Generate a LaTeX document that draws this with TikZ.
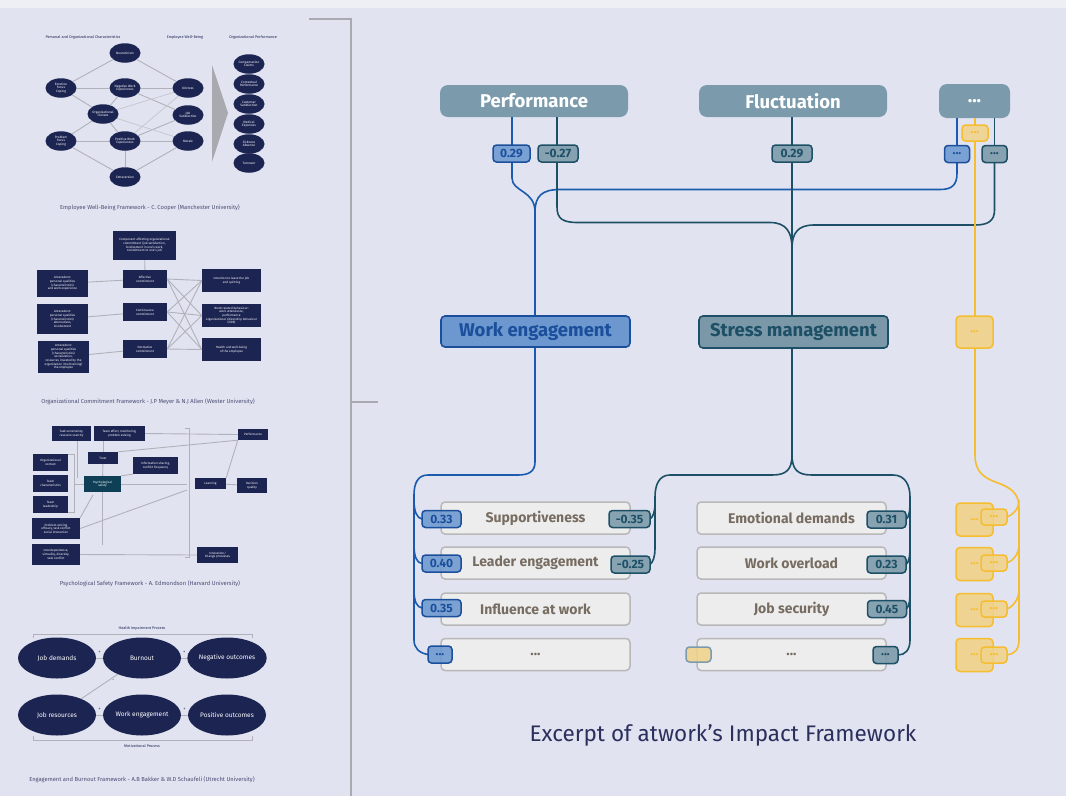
\documentclass[tikz,border=0pt]{standalone}
\usepackage{fontspec}
\setmainfont{Fira Sans}
\usetikzlibrary{shapes.geometric}
\definecolor{bg}{HTML}{E1E3F0}
\definecolor{outer}{HTML}{EEEFF4}
\definecolor{topc}{HTML}{7B9BAC}
\definecolor{bluel}{HTML}{1A5BAE}
\definecolor{bluef}{HTML}{6C98CF}
\definecolor{bluet}{HTML}{1B4F9C}
\definecolor{teall}{HTML}{1D5066}
\definecolor{tealf}{HTML}{7A98A8}
\definecolor{yell}{HTML}{F5BD2F}
\definecolor{yelf}{HTML}{F0D28B}
\definecolor{rowf}{HTML}{EDEDED}
\definecolor{rowd}{HTML}{B8B8B8}
\definecolor{rowt}{HTML}{776C61}
\definecolor{navy}{HTML}{1C2452}
\definecolor{psyc}{HTML}{0E3F57}
\definecolor{pgrey}{HTML}{B1B2B9}
\definecolor{capc}{HTML}{2B2F5C}
\definecolor{brk}{HTML}{A9AAB0}
\tikzset{
  topbox/.style={fill=topc, rounded corners=8, text=white, font=\bfseries\fontsize{18.5}{20}\selectfont, minimum height=32, inner sep=0},
  badge/.style={line width=1.5, rounded corners=3.5, font=\bfseries\fontsize{12}{13}\selectfont, minimum height=17, inner sep=0, fill opacity=0.88, text opacity=1},
  bbadge/.style={badge, fill=bluef, draw=bluet, text=bluet},
  tbadge/.style={badge, fill=tealf, draw=teall, text=teall},
  ybadge/.style={badge, fill=yelf, draw=yell, text=yell},
  rowbox/.style={fill=rowf, draw=rowd, line width=1.5, rounded corners=4, text=rowt, font=\bfseries\fontsize{14}{16}\selectfont, minimum width=189, minimum height=32, inner sep=0},
  ybig/.style={fill=yelf, draw=yell, line width=1.5, rounded corners=4, text=yell, font=\bfseries\fontsize{11}{12}\selectfont, minimum width=37, minimum height=33, inner sep=0, fill opacity=0.92, text opacity=1},
  midbox/.style={line width=1.6, rounded corners=4, font=\bfseries\fontsize{18.5}{20}\selectfont, minimum width=189, inner sep=0},
  bl/.style={draw=bluel, line width=1.6},
  tl/.style={draw=teall, line width=1.6},
  yl/.style={draw=yell, line width=1.6},
  e1/.style={ellipse, fill=navy, text=white, minimum width=31, minimum height=19.5, inner sep=0, align=center, font=\fontsize{3.2}{3.5}\selectfont},
  e4/.style={ellipse, fill=navy, text=white, minimum width=78, minimum height=41, inner sep=0, align=center, font=\fontsize{6.5}{7.5}\selectfont},
  nb/.style={fill=navy, text=white, inner sep=0, align=center, font=\fontsize{3.1}{3.7}\selectfont},
  pl/.style={draw=pgrey, line width=0.9},
  pll/.style={draw=pgrey!60!bg, line width=0.7},
  ptxt/.style={text=navy, font=\fontsize{3.8}{4.2}\selectfont},
  pcap/.style={text=capc!85, font=\fontsize{5.8}{6.5}\selectfont},
  plus/.style={text=navy, font=\fontsize{4.5}{4.5}\selectfont},
}
\begin{document}
\begin{tikzpicture}[x=1pt,y=-1pt]
\useasboundingbox (0,0) rectangle (1066,796);
\fill[outer] (0,0) rectangle (1066,796);
\fill[bg] (0,8) rectangle (1066,796);

% ---------- left bracket ----------
\draw[brk, line width=1.4] (309,19) -- (351,19) -- (351,796);
\draw[brk, line width=1.4] (351,402) -- (378,402);

% ---------- Panel 1 ----------
\node[ptxt] (p1h1) at (83,37) {Personal and Organizational Characteristics};
\node[ptxt] (p1h2) at (185,37) {Employee Well-Being};
\node[ptxt] (p1h3) at (253,37) {Organizational Performance};
\node[e1] (p1neu) at (125,53) {Neuroticism};
\node[e1] (p1emo) at (61,88) {Emotion\\Focus\\Coping};
\node[e1] (p1neg) at (125,88) {Negative Work\\Experiences};
\node[e1] (p1dis) at (188,88) {Distress};
\node[e1] (p1org) at (103,114) {Organizational\\Climate};
\node[e1] (p1job) at (188,115) {Job\\Satisfaction};
\node[e1] (p1pro) at (61,141) {Problem\\Focus\\Coping};
\node[e1] (p1pos) at (125,141) {Positive Work\\Experiences};
\node[e1] (p1mor) at (188,141) {Morale};
\node[e1] (p1ext) at (125,177) {Extraversion};
\node[e1] (p1c1) at (249,64) {Compensation\\Claims};
\node[e1] (p1c2) at (249,84) {Contextual\\Performance};
\node[e1] (p1c3) at (249,104) {Customer\\Satisfaction};
\node[e1] (p1c4) at (249,124) {Medical\\Expenses};
\node[e1] (p1c5) at (249,144) {Sickness\\Absence};
\node[e1] (p1c6) at (249,163) {Turnover};
\fill[brk] (212,65) -- (228,113) -- (212,162) -- cycle;
\node[pcap] (p1cap) at (150,208) {Employee Well-Being Framework - C. Cooper (Manchester University)};

% ---------- Panel 2 ----------
\node[nb, minimum width=63, minimum height=29] (p2top) at (144.5,245.5) {Component affecting organizational\\commitment (job satisfaction,\\involvement in one's work,\\commitment to one's job};
\node[nb, minimum width=51, minimum height=27] (p2a1) at (62.5,283.5) {Antecedent:\\personal qualities\\(characteristics)\\and work experience};
\node[nb, minimum width=51, minimum height=30] (p2a2) at (62.5,319) {Antecedent:\\personal qualities\\(characteristics)\\alternatives,\\involvement};
\node[nb, minimum width=51, minimum height=32] (p2a3) at (63.5,357) {Antecedent:\\personal qualities\\(characteristics)\\socialization,\\resources invested by the\\organization into (training)\\the employee};
\node[nb, minimum width=44, minimum height=18] (p2m1) at (145,279) {Affective\\commitment};
\node[nb, minimum width=44, minimum height=18] (p2m2) at (145,312) {Continuance\\commitment};
\node[nb, minimum width=44, minimum height=18] (p2m3) at (145,349) {Normative\\commitment};
\node[nb, minimum width=59, minimum height=23] (p2r1) at (231.5,280.5) {Intention to leave the job\\and quitting};
\node[nb, minimum width=59, minimum height=23] (p2r2) at (231.5,315.5) {Work-related behaviour:\\work attendance,\\performance\\organizational citizenship behaviour\\(OCB)};
\node[nb, minimum width=59, minimum height=23] (p2r3) at (231.5,349.5) {Health and well-being\\of the employee};
\node[pcap] (p2cap) at (148,402) {Organizational Commitment Framework - J.P Meyer \& N.J Allen (Wester University)};

% ---------- Panel 3 ----------
\node[nb, minimum width=39, minimum height=15] (p3task) at (71.5,433.5) {Task uncertainty,\\resource scarcity};
\node[nb, minimum width=51, minimum height=15] (p3eff) at (119.5,433.5) {Team effort, monitoring,\\problem solving};
\node[nb, minimum width=30, minimum height=11] (p3perf) at (253,434.5) {Performance};
\node[nb, minimum width=30, minimum height=12] (p3trust) at (103,458) {Trust};
\node[nb, minimum width=35, minimum height=17] (p3org) at (50.5,462.5) {Organizational\\context};
\node[nb, minimum width=45, minimum height=17] (p3info) at (155.5,465.5) {Information sharing,\\conflict frequency};
\node[nb, minimum width=35, minimum height=17] (p3team) at (50.5,483.5) {Team\\characteristics};
\node[nb, fill=psyc, minimum width=37, minimum height=16] (p3psy) at (102.5,484) {Psychological\\safety};
\node[nb, minimum width=31, minimum height=11] (p3learn) at (210.5,483.5) {Learning};
\node[nb, minimum width=30, minimum height=15] (p3dec) at (252,485.5) {Decision\\quality};
\node[nb, minimum width=35, minimum height=17] (p3lead) at (50.5,504.5) {Team\\leadership};
\node[nb, minimum width=48, minimum height=21] (p3prob) at (56,528.5) {Problem solving\\efficacy, task conflict\\social interaction};
\node[nb, minimum width=48, minimum height=21] (p3int) at (56,554.5) {Interdependence,\\virtuality, diversity,\\task conflict};
\node[nb, minimum width=41, minimum height=16] (p3inno) at (217.5,555) {Innovation/\\Change processes};
\node[pcap] (p3cap) at (150,584) {Psychological Safety Framework - A. Edmondson (Harvard University)};

% ---------- Panel 4 ----------
\node[ptxt] (p4h1) at (142,628) {Health Impairment Process};
\node[ptxt] (p4h2) at (142,746) {Motivational Process};
\node[e4] (p4jd) at (57,658) {Job demands};
\node[e4] (p4bo) at (142,658) {Burnout};
\node[e4] (p4no) at (227,658) {Negative outcomes};
\node[e4] (p4jr) at (57,715) {Job resources};
\node[e4] (p4we) at (142,715) {Work engagement};
\node[e4] (p4po) at (227,715) {Positive outcomes};
\node[pcap] (p4cap) at (142,780) {Engagement and Burnout Framework - A.B Bakker \& W.D Schaufeli (Utrecht University)};

% panel connectors
\draw[pl] (p1neu) -- (p1emo);
\draw[pl] (p1neu) -- (p1dis);
\draw[pl] (p1emo) -- (p1neg);
\draw[pl] (p1neg) -- (p1dis);
\draw[pl] (p1emo) -- (p1org);
\draw[pl] (p1neg) -- (p1org);
\draw[pl] (p1neg) -- (p1job);
\draw[pl] (p1org) -- (p1pro);
\draw[pl] (p1org) -- (p1pos);
\draw[pl] (p1pro) -- (p1pos);
\draw[pl] (p1pos) -- (p1mor);
\draw[pl] (p1pos) -- (p1job);
\draw[pl] (p1pos) -- (p1ext);
\draw[pl] (p1pro) -- (p1ext);
\draw[pl] (p1mor) -- (p1ext);
\draw[pll] (p1org) -- (p1mor);
\draw[pll] (p1org) -- (p1dis);
\draw[pll] (p1pos) -- (p1dis);

\draw[pl] (p2top) -- (p2m1);
\draw[pl] (p2a1) -- (p2m1);
\draw[pl] (p2a2) -- (p2m2);
\draw[pl] (p2a3) -- (p2m3);
\foreach \m in {p2m1,p2m2,p2m3}{
  \foreach \r in {p2r1,p2r2,p2r3}{
    \draw[pl] (\m.east) -- (\r.west);
  }
}

\draw[pl] (68,454) -- (74,454) -- (74,512) -- (68,512);
\draw[pl] (74,484) -- (p3psy.west);
\draw[pl] (77,441) -- (77,478);
\draw[pl] (p3trust.north) -- (p3trust.north |- p3eff.south);
\draw[pl] (p3trust) -- (p3psy);
\draw[pl] (p3psy.north east) -- (p3info.south west);
\draw[pl] (p3psy.east) -- (187,484);
\draw[pl] (185,428) -- (189,428) -- (189,557) -- (185,557);
\draw[pl] (p3eff.east) -- (p3perf.west);
\draw[pl] (p3trust.north east) -- (p3perf.south west);
\draw[pl] (p3learn.north east) -- (p3perf.south west);
\draw[pl] (p3learn) -- (p3dec);
\draw[pl] (p3psy.south) -- (102.5,545);
\draw[pl] (93,495) -- (p3prob.north east);
\draw[pl] (p3prob.east) -- (187,490);
\draw[pl] (p3int.east) -- (p3inno.west);

\draw[pl] (33,638) -- (33,634) -- (252,634) -- (252,638);
\draw[pl] (33,736) -- (33,740) -- (252,740) -- (252,736);
\draw[pl] (p4jd) -- node[plus, above=1pt] {+} (p4bo);
\draw[pl] (p4bo) -- node[plus, above=1pt] {+} (p4no);
\draw[pl] (p4jr) -- node[plus, above=1pt] {+} (p4we);
\draw[pl] (p4we) -- node[plus, above=1pt] {+} (p4po);
\draw[pl] (p4jr) -- node[plus, pos=0.72, right=1pt] {-} (p4bo);

% ---------- Right side ----------
\node[topbox, minimum width=188] (perf) at (534,101) {Performance};
\node[topbox, minimum width=188] (flu) at (793,101) {Fluctuation};
\node[topbox, minimum width=71, minimum height=34] (topx) at (974.5,101) {...};

\coordinate (jb) at (535,212);
\coordinate (jt) at (792,248);
\coordinate (js) at (792,455);

% top connectors
\draw[bl] (perf.south -| 512,0) -- (512,146);
\draw[tl] (perf.south -| 557,0) -- (557,146);
\draw[tl] (flu.south -| jt) -- (792,146);
\draw[bl] (topx.south -| 957,0) -- (957,146);
\draw[tl] (topx.south -| 994.5,0) -- (994.5,146);
\draw[yl] (topx.south -| 975,0) -- (975,126);

\draw[bl] (512,162) -- (512,178) .. controls (512,192) and (535,190) .. (jb);
\draw[bl] (957,162) -- (957,173) .. controls (957,185) and (952,189.5) .. (940,189.5) -- (560,189.5) .. controls (542,189.5) and (535,196) .. (jb);
\draw[tl] (557,162) -- (557,207) .. controls (557,219) and (563,222.5) .. (578,222.5) -- (770,222.5) .. controls (786,222.5) and (792,232) .. (jt);
\draw[tl] (994.5,162) -- (994.5,210) .. controls (994.5,221) and (988,225) .. (975,225) -- (814,225) .. controls (798,225) and (792,233) .. (jt);
\draw[tl] (792,162) -- (792,316);
\draw[bl] (jb) -- (535,316);
\draw[yl] (975,141) -- (975,316);

% bottom connectors
\draw[bl] (535,347) -- (535,462) .. controls (535,472) and (528,475) .. (518,475) -- (428,475) .. controls (418,475) and (414,483) .. (414,495) -- (414,640) .. controls (414,648) and (419,653) .. (428,654.5);
\draw[bl] (414,500) .. controls (414,512) and (417,518) .. (422,519);
\draw[bl] (414,545) .. controls (414,557) and (417,563) .. (422,563.5);
\draw[bl] (414,590) .. controls (414,602) and (417,607) .. (422,608);

\draw[tl] (792,348) -- (js);
\draw[tl] (js) .. controls (792,470) and (786,475) .. (772,475) -- (670,475) .. controls (659,475) and (655,485) .. (655,497) -- (655,548) .. controls (655,557) and (653,562) .. (650,564.5);
\draw[tl] (655,503) .. controls (655,512) and (653,517) .. (650,519);
\draw[tl] (js) .. controls (792,470) and (798,475) .. (812,475) -- (893,475) .. controls (905,475) and (910,485) .. (910,497) -- (910,640) .. controls (910,650) and (905,655) .. (898,655);
\draw[tl] (910,500) .. controls (910,512) and (909,517) .. (906,519.5);
\draw[tl] (910,545) .. controls (910,557) and (909,562) .. (906,564.5);
\draw[tl] (910,590) .. controls (910,602) and (909,607) .. (906,609);

\draw[yl] (975,348) -- (975,455) .. controls (975,478) and (992,480) .. (1003,485) .. controls (1014,490) and (1019,496) .. (1019,508) -- (1019,640) .. controls (1019,650) and (1014,654) .. (1007,655);
\draw[yl] (1019,500) .. controls (1019,510) and (1012,515) .. (1007,517);
\draw[yl] (1019,545) .. controls (1019,555) and (1012,561) .. (1007,563);
\draw[yl] (1019,590) .. controls (1019,600) and (1012,607) .. (1007,609);

% top badges
\node[bbadge, minimum width=37] (bp1) at (511.5,153.5) {0.29};
\node[tbadge, minimum width=40] (tp2) at (558,153.5) {-0.27};
\node[tbadge, minimum width=40] (tf) at (792,153.5) {0.29};
\node[bbadge, minimum width=25] (bx) at (957,154) {...};
\node[tbadge, minimum width=25] (tx) at (994.5,154) {...};
\node[ybadge, minimum width=26, minimum height=16] (ytop) at (975,133) {...};

% middle nodes
\node[midbox, draw=bluet, fill=bluef, text=bluet, minimum height=31] (we) at (535.5,331.5) {Work engagement};
\node[midbox, draw=teall, fill=tealf, text=teall, minimum height=32] (sm) at (793.5,332) {Stress management};
\node[ybig, minimum height=32] (ymid) at (974.5,332) {...};

% rows
\node[rowbox] (r11) at (535.5,518) {Supportiveness};
\node[rowbox] (r12) at (535.5,563) {Leader engagement};
\node[rowbox] (r13) at (535.5,609) {Influence at work};
\node[rowbox] (r14) at (535.5,654.5) {...};
\node[rowbox] (r21) at (791.5,518) {Emotional demands};
\node[rowbox] (r22) at (791.5,563) {Work overload};
\node[rowbox] (r23) at (791.5,609) {Job security};
\node[rowbox] (r24) at (791.5,654.5) {...};
\node[ybig] (r31) at (974.5,519.5) {...};
\node[ybig] (r32) at (974.5,564) {...};
\node[ybig] (r33) at (974.5,610) {...};
\node[ybig] (r34) at (974.5,655) {...};

% row badges
\node[bbadge, minimum width=39] (bb1) at (441.5,519) {0.33};
\node[bbadge, minimum width=39] (bb2) at (441.5,563.5) {0.40};
\node[bbadge, minimum width=39] (bb3) at (441.5,608) {0.35};
\node[bbadge, minimum width=24] (bb4) at (440,654.5) {...};
\node[tbadge, minimum width=41] (tr1) at (629.5,519) {-0.35};
\node[tbadge, minimum width=39] (tr2) at (630.5,564.5) {-0.25};
\node[tbadge, minimum width=39] (tq1) at (886.5,519.5) {0.31};
\node[tbadge, minimum width=39] (tq2) at (886.5,564.5) {0.23};
\node[tbadge, minimum width=39] (tq3) at (887,609) {0.45};
\node[tbadge, minimum width=25] (tq4) at (885.5,655) {...};
\node[badge, fill=yelf, draw=topc, minimum width=25, minimum height=15] (ym) at (698.5,654.5) {};
\node[ybadge, minimum width=26, minimum height=16] (ys1) at (994,517) {...};
\node[ybadge, minimum width=26, minimum height=16] (ys2) at (994,563) {...};
\node[ybadge, minimum width=26, minimum height=16] (ys3) at (994,609) {...};
\node[ybadge, minimum width=26, minimum height=16] (ys4) at (994,655) {...};

% caption
\node[text=capc, font=\fontsize{22.5}{26}\selectfont] (cap) at (723,735) {Excerpt of atwork's Impact Framework};
\end{tikzpicture}
\end{document}
